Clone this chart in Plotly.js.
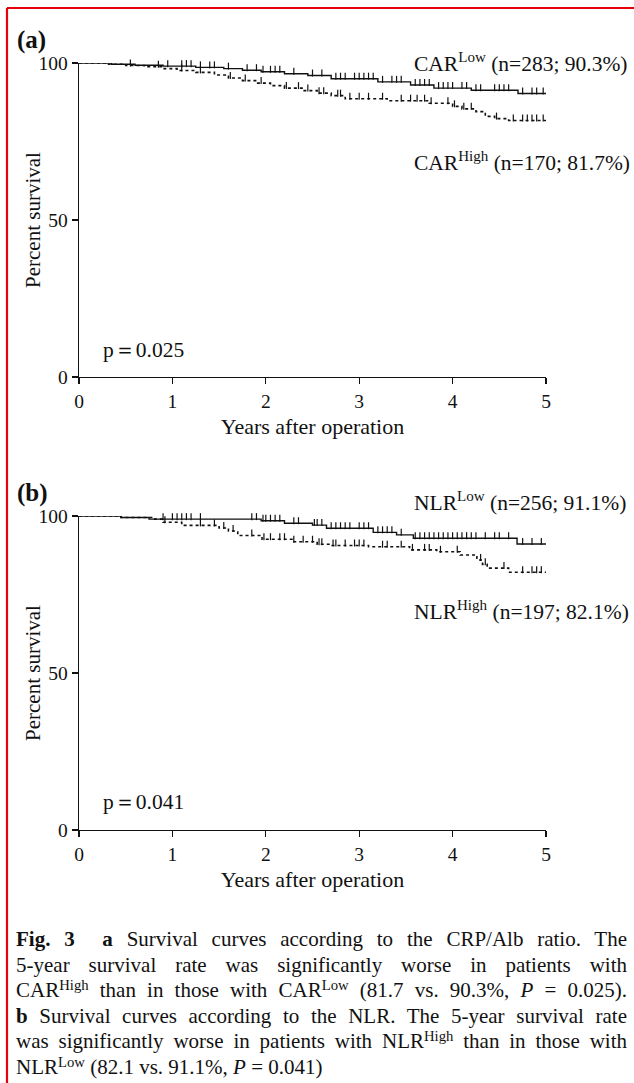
<!DOCTYPE html>
<html>
<head>
<meta charset="utf-8">
<script src="https://cdn.plot.ly/plotly-3.0.1.min.js"></script>
<style>
  html, body { margin: 0; padding: 0; background: #fff; }
  #wrap { position: relative; width: 634px; height: 1083px; overflow: hidden; }
  #chart { position: absolute; left: 0; top: 0; width: 634px; height: 1083px; }
  #caption { position: absolute; left: 16px; top: 927px; width: 611px;
    font-family: "Liberation Serif", "Times New Roman", serif; font-size: 21px;
    line-height: 25.6px; color: #111; }
  #caption div { white-space: nowrap; text-align: justify; text-align-last: justify; }
  #caption div.last { text-align-last: left; }
  #caption sup { font-size: 0.7em; line-height: 0; vertical-align: 0.5em; }
</style>
</head>
<body>
<div id="wrap">
<div id="chart"></div>
<div id="caption">
<div><b>Fig. 3</b>&nbsp; <b>a</b> Survival curves according to the CRP/Alb ratio. The</div>
<div>5-year survival rate was significantly worse in patients with</div>
<div>CAR<sup>High</sup> than in those with CAR<sup>Low</sup> (81.7 vs. 90.3%, <i>P</i> = 0.025).</div>
<div><b>b</b> Survival curves according to the NLR. The 5-year survival rate</div>
<div>was significantly worse in patients with NLR<sup>High</sup> than in those with</div>
<div class="last">NLR<sup>Low</sup> (82.1 vs. 91.1%, <i>P</i> = 0.041)</div>
</div>
</div>
<script>
// ---------- Data ----------
// Panel (a): CRP/Alb ratio
const carLowTime   = [0, 0.35, 0.6, 0.9, 1.25, 1.55, 1.75, 1.95, 2.2, 2.45, 2.7, 3.2, 3.55, 3.8, 4.2, 4.7, 5];
const carLowSurv   = [100, 99.6, 99.3, 99.0, 98.6, 98.2, 97.7, 97.2, 96.6, 96.0, 95.0, 94.0, 93.0, 92.0, 91.3, 90.3, 90.3];
const carLowCens   = [0.25,0.3,0.45,0.5,0.7,0.95,1.1,1.15,1.2,1.3,1.4,1.45,1.6,1.8,1.9,1.97,2.05,2.1,2.15,2.3,2.5,2.6,2.75,2.8,2.85,2.95,3.0,3.05,3.1,3.15,3.25,3.35,3.4,3.45,3.6,3.65,3.7,3.75,3.85,3.9,3.95,4.0,4.1,4.15,4.25,4.3,4.45,4.5,4.55,4.6,4.75,4.85,4.9,4.97];
const carHighTime  = [0, 0.3, 0.5, 0.7, 0.9, 1.05, 1.25, 1.45, 1.6, 1.75, 1.9, 2.05, 2.2, 2.4, 2.55, 2.7, 2.85, 3.3, 3.75, 4.0, 4.1, 4.25, 4.35, 4.45, 4.6, 5];
const carHighSurv  = [100, 99.6, 99.2, 98.8, 98.2, 97.6, 97.0, 96.2, 95.2, 94.4, 93.6, 92.8, 92.0, 91.2, 90.4, 89.6, 88.6, 88.0, 87.2, 86.2, 85.4, 84.5, 83.0, 82.3, 81.7, 81.7];
const carHighCens  = [0.3,0.55,0.85,1.1,1.3,1.62,1.78,1.95,2.22,2.35,2.45,2.57,2.62,2.77,2.8,2.9,3.0,3.1,3.25,3.45,3.55,3.62,3.7,3.77,3.95,4.02,4.12,4.2,4.47,4.65,4.75,4.8,4.85,4.9,4.97];

// Panel (b): NLR
const nlrLowTime   = [0, 0.45, 0.75, 1.95, 2.2, 2.5, 2.65, 3.15, 3.4, 3.58, 4.69, 5];
const nlrLowSurv   = [100, 99.5, 99.0, 98.5, 97.7, 97.1, 96.1, 94.8, 94.0, 92.9, 91.1, 91.1];
const nlrLowCens   = [0.25,0.27,0.35,0.47,0.5,0.55,0.9,1.0,1.05,1.1,1.15,1.2,1.3,1.85,1.9,1.97,2.0,2.05,2.1,2.15,2.3,2.35,2.52,2.55,2.6,2.7,2.75,2.8,2.85,2.9,3.0,3.05,3.1,3.2,3.25,3.3,3.35,3.45,3.6,3.65,3.7,3.75,3.8,3.85,3.9,3.95,4.0,4.05,4.1,4.15,4.2,4.25,4.35,4.45,4.5,4.6,4.75,4.85,4.95];
const nlrHighTime  = [0, 0.45, 0.8, 0.9, 1.1, 1.5, 1.6, 1.7, 1.96, 2.28, 2.55, 2.7, 3.1, 3.54, 3.83, 4.08, 4.26, 4.32, 4.37, 4.6, 5];
const nlrHighSurv  = [100, 99.5, 99.0, 98.0, 97.0, 96.2, 95.2, 93.8, 92.6, 91.8, 91.0, 90.6, 90.2, 89.2, 88.6, 87.6, 86.0, 84.6, 83.4, 82.1, 82.1];
const nlrHighCens  = [0.3,0.5,0.92,1.3,1.45,1.55,1.65,1.85,1.98,2.05,2.15,2.2,2.3,2.4,2.5,2.57,2.6,2.72,2.75,2.85,2.95,3.0,3.05,3.25,3.3,3.45,3.57,3.7,3.75,3.87,4.05,4.3,4.35,4.55,4.75,4.85,4.9,4.95];

// Tick values and texts
const xTicks = [0, 1, 2, 3, 4, 5];
const yTicks = [0, 50, 100];
const labelsA = ["CAR<sup>Low</sup> (n=283; 90.3%)", "CAR<sup>High</sup> (n=170; 81.7%)", "p\uFF1D0.025", "(a)"];
const labelsB = ["NLR<sup>Low</sup> (n=256; 91.1%)", "NLR<sup>High</sup> (n=197; 82.1%)", "p\uFF1D0.041", "(b)"];
const xTitle = "Years after operation";
const yTitle = "Percent survival";

// ---------- Helpers ----------
const W = 634, H = 1083;
const px = v => v / W;          // pixel x -> paper x
const py = v => 1 - v / H;      // pixel y (from top) -> paper y
const FONT = '"Liberation Serif", "Times New Roman", serif';
const INK = '#111';

function stepAt(times, surv, t) {
  let v = surv[0];
  for (let i = 0; i < times.length; i++) { if (times[i] <= t) v = surv[i]; else break; }
  return v;
}
function curve(times, surv, cens, xa, ya, dashed) {
  const line = {
    x: times, y: surv, xaxis: xa, yaxis: ya, type: 'scatter', mode: 'lines',
    line: { shape: 'hv', color: INK, width: dashed ? 1.6 : 1.4, dash: dashed ? 'dot' : 'solid' },
    hoverinfo: 'skip', showlegend: false
  };
  const marks = {
    x: cens, y: cens.map(c => stepAt(times, surv, c) + 0.8), xaxis: xa, yaxis: ya,
    type: 'scatter', mode: 'markers', cliponaxis: false,
    marker: { symbol: 'line-ns', size: 5, color: INK, line: { color: INK, width: 1.2 } },
    hoverinfo: 'skip', showlegend: false
  };
  return [line, marks];
}

const data = [
  ...curve(carLowTime, carLowSurv, carLowCens, 'x', 'y', false),
  ...curve(carHighTime, carHighSurv, carHighCens, 'x', 'y', true),
  ...curve(nlrLowTime, nlrLowSurv, nlrLowCens, 'x2', 'y2', false),
  ...curve(nlrHighTime, nlrHighSurv, nlrHighCens, 'x2', 'y2', true)
];

function xAxis(anchor) {
  return {
    domain: [px(79), px(546)], range: [0, 5], anchor: anchor,
    tickvals: xTicks, ticktext: xTicks.map(String), ticks: 'outside', ticklen: 6, tickwidth: 1.2,
    tickcolor: INK, showline: true, linecolor: INK, linewidth: 1.4,
    showgrid: false, zeroline: false, tickfont: { family: FONT, size: 19.5, color: INK },
    title: { text: xTitle, font: { family: FONT, size: 22, color: INK }, standoff: 8 }
  };
}
function yAxis(anchor, top, bottom) {
  return {
    domain: [py(bottom), py(top)], range: [0, 100], anchor: anchor,
    tickvals: yTicks, ticktext: yTicks.map(String), ticks: 'outside', ticklen: 6, tickwidth: 1.2,
    tickcolor: INK, showline: true, linecolor: INK, linewidth: 1.4,
    showgrid: false, zeroline: false, tickfont: { family: FONT, size: 19.5, color: INK }
  };
}

function ann(text, x, y, opts) {
  return Object.assign({ text: text, xref: 'paper', yref: 'paper', x: px(x), y: py(y),
    xanchor: 'left', yanchor: 'middle', showarrow: false,
    font: { family: FONT, size: 21.5, color: INK } }, opts || {});
}
const bold = t => '<b>' + t + '</b>';
const yTitleOpts = { xanchor: 'center', textangle: -90, font: { family: FONT, size: 21, color: INK } };
const panelOpts = { font: { family: FONT, size: 25, color: INK } };

const annotations = [
  ann(labelsA[0], 412, 62),
  ann(labelsA[1], 412, 161),
  ann(labelsA[2], 101, 350),
  ann(bold(labelsA[3]), 15, 40, panelOpts),
  ann(yTitle, 33, 220, yTitleOpts),
  ann(labelsB[0], 412, 501),
  ann(labelsB[1], 412, 610),
  ann(labelsB[2], 101, 802),
  ann(bold(labelsB[3]), 15, 493, panelOpts),
  ann(yTitle, 33, 673, yTitleOpts)
];

const layout = {
  width: W, height: H, margin: { l: 0, r: 0, t: 0, b: 0 },
  paper_bgcolor: '#fff', plot_bgcolor: 'rgba(0,0,0,0)', showlegend: false,
  xaxis: xAxis('y'), yaxis: yAxis('x', 63, 377),
  xaxis2: xAxis('y2'), yaxis2: yAxis('x2', 516, 830),
  annotations: annotations,
  shapes: [
    { type: 'line', xref: 'paper', yref: 'paper', x0: px(7), x1: 1.01, y0: py(8), y1: py(8), line: { color: '#e8000b', width: 2.2 } },
    { type: 'line', xref: 'paper', yref: 'paper', x0: px(7), x1: px(7), y0: py(8), y1: -0.01, line: { color: '#e8000b', width: 2.2 } }
  ]
};

Plotly.newPlot('chart', data, layout, { staticPlot: true, displayModeBar: false });
</script>
</body>
</html>
